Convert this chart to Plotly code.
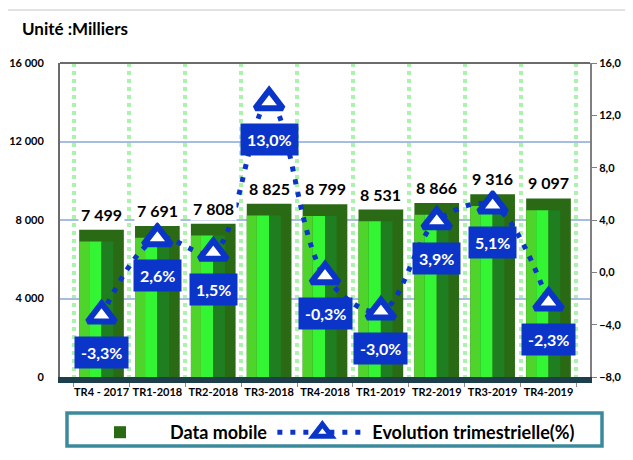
import plotly.graph_objects as go
import numpy as np

# donnees du graphique
trimestres = ["TR4 - 2017", "TR1-2018", "TR2-2018", "TR3-2018", "TR4-2018",
              "TR1-2019", "TR2-2019", "TR3-2019", "TR4-2019"]
data_mobile = [7499, 7691, 7808, 8825, 8799, 8531, 8866, 9316, 9097]
evolution = [-3.3, 2.6, 1.5, 13.0, -0.3, -3.0, 3.9, 5.1, -2.3]

BLEU = "#0a35c8"
POLICE = "Lato, 'Open Sans', sans-serif"

# la page html ajoute 8px de marge autour de la figure
W, H = 625, 452
ML, MR, MT, MB = 52, 43, 55, 83
pw, ph = W - ML - MR, H - MT - MB


def px_x(x):
    return (x - ML) / pw


def px_y(y):
    return (MT + ph - y) / ph


fig = go.Figure()

# barre principale (couleur du dessus / cote droit)
fig.add_trace(go.Bar(
    x=trimestres, y=data_mobile, name="Data mobile",
    width=0.8, offset=-0.4,
    marker=dict(color="#2b6a14", line=dict(width=0)),
))

# faces pour imiter l'effet 3D biseaute
biseau = 600
hauteur_face = list(np.array(data_mobile) - biseau)
for off, wd, col in [(-0.4, 0.18, "#4fd42c"), (-0.22, 0.22, "#33f533"), (0.0, 0.21, "#1f7e1f")]:
    fig.add_trace(go.Bar(
        x=trimestres, y=hauteur_face, width=wd, offset=off,
        marker=dict(color=col, line=dict(width=0)),
        showlegend=False, hoverinfo="skip",
    ))

# courbe d'evolution
fig.add_trace(go.Scatter(
    x=trimestres, y=evolution, yaxis="y2", name="Evolution trimestrielle(%)",
    mode="lines+markers",
    line=dict(color=BLEU, width=5, dash="5px,8px", shape="spline"),
    marker=dict(symbol="triangle-up", size=24, color="white", line=dict(color=BLEU, width=6)),
))

annotations = []
for cat, v in zip(trimestres, data_mobile):
    annotations.append(dict(
        x=cat, y=v, xref="x", yref="y", yanchor="bottom", yshift=3,
        text=f"{v:,}".replace(",", " "), showarrow=False, bgcolor="white",
        font=dict(size=16, color="black", family=POLICE, weight="bold"),
        borderpad=2,
    ))
for cat, e in zip(trimestres, evolution):
    annotations.append(dict(
        x=cat, y=e, xref="x", yref="y2", yshift=-37,
        text=f"{e:.1f}%".replace(".", ","), showarrow=False, bgcolor=BLEU,
        font=dict(size=16, color="white", family=POLICE, weight="bold"),
        borderpad=6,
    ))

fig.update_layout(
    width=W, height=H,
    margin=dict(l=ML, r=MR, t=MT, b=MB, autoexpand=False),
    paper_bgcolor="white", plot_bgcolor="white",
    separators=", ",
    barmode="overlay",
    bargap=0.2,
    font=dict(family=POLICE, color="black"),
    title=dict(text="<b>Unité :Milliers</b>", xref="container", yref="container",
               x=14 / W, xanchor="left", y=1 - 21 / H, yanchor="middle",
               font=dict(size=17, family=POLICE, color="black")),
    xaxis=dict(type="category", tickson="boundaries", tickangle=0, automargin=False,
               showgrid=True, gridcolor="#aef0ae", gridwidth=4, griddash="dot",
               showline=True, linecolor="#1d3f4b", linewidth=6,
               ticks="outside", ticklen=4, tickcolor="#8c8c8c",
               tickfont=dict(size=11, weight="bold", family=POLICE)),
    yaxis=dict(range=[0, 16000], tickvals=[0, 4000, 8000, 12000, 16000], tickformat=",d",
               showgrid=True, gridcolor="#a4bde0", gridwidth=1.5, zeroline=False,
               showline=True, linecolor="#6b6b6b", linewidth=2, automargin=False,
               ticklabelstandoff=12,
               tickfont=dict(size=11, weight="bold", family=POLICE)),
    yaxis2=dict(overlaying="y", side="right", range=[-8, 16], tickvals=[-8, -4, 0, 4, 8, 12, 16],
                tickformat=".1f", ticksuffix="%", showgrid=False, zeroline=False,
                showline=True, linecolor="#7f7f7f", linewidth=2, automargin=False,
                ticks="outside", ticklen=5, tickcolor="#7f7f7f",
                tickfont=dict(size=11, weight="bold", family=POLICE)),
    legend=dict(orientation="h", x=px_x(62), y=px_y(406),
                xanchor="left", yanchor="top",
                borderwidth=0, bgcolor="rgba(0,0,0,0)",
                itemwidth=90, traceorder="normal",
                font=dict(size=18, weight="bold", family=POLICE)),
    annotations=annotations,
    shapes=[
        # bord superieur de la zone de trace
        dict(type="line", xref="paper", yref="paper", x0=0, x1=1, y0=1, y1=1,
             line=dict(color="#6b6b6b", width=2)),
        # cadre du graphique
        dict(type="rect", xref="paper", yref="paper",
             x0=px_x(-1), x1=px_x(640), y0=px_y(470), y1=px_y(2),
             line=dict(color="#d9d9d9", width=1.5)),
        # cadre de la legende
        dict(type="rect", xref="paper", yref="paper",
             x0=px_x(59), x1=px_x(594), y0=px_y(438), y1=px_y(405),
             line=dict(color="#3b8a9c", width=3.5)),
    ],
)

fig.write_html("out.html")
